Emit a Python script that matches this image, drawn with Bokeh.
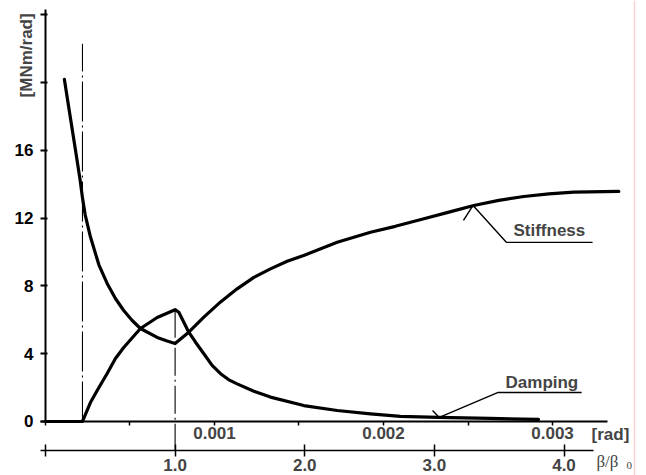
import math
from bokeh.plotting import figure
from bokeh.models import (Range1d, LinearAxis, FixedTicker, Label, Span,
                          PrintfTickFormatter)
from bokeh.embed import file_html
from bokeh.resources import INLINE

# ---------------- data (x in rad) ----------------
beta0 = 0.000767          # rad, reference amplitude beta_0
onset = 0.000219          # rad, first dash-dot line

stiffness_x = [0.000112, 0.000140, 0.000178, 0.000205, 0.000219, 0.000235,
               0.000266, 0.000316, 0.000365, 0.000414, 0.000463, 0.000513,
               0.000562, 0.000661, 0.000720, 0.000767,
               0.000848, 0.000937, 0.001036, 0.001134, 0.001233, 0.001331,
               0.00143, 0.001528, 0.001726, 0.001923, 0.00207, 0.002239,
               0.002387, 0.002534, 0.002682, 0.00283, 0.002978, 0.003126,
               0.003392]
stiffness_y = [20.19, 18.4, 16.0, 14.25, 13.2, 12.2,
               10.9, 9.25, 8.15, 7.26, 6.55, 5.96,
               5.49, 4.96, 4.75, 4.6,
               5.27, 6.16, 7.06, 7.83, 8.51, 9.01,
               9.46, 9.8, 10.58, 11.17, 11.52, 11.97,
               12.36, 12.75, 13.05, 13.28, 13.44, 13.54,
               13.58]

damping_x = [0.0, 0.000219, 0.000266, 0.000306, 0.000365, 0.000414,
             0.000463, 0.000562, 0.000661, 0.000767, 0.000789, 0.000848,
             0.000888, 0.000937, 0.000986, 0.001036, 0.001085, 0.001134,
             0.001233, 0.001331, 0.001528, 0.001726, 0.001923, 0.0021,
             0.002325, 0.00263, 0.002917]
damping_y = [0.0, 0.0, 1.12, 1.83, 2.83, 3.72,
             4.37, 5.49, 6.14, 6.6, 6.45, 5.27,
             4.68, 4.0, 3.31, 2.82, 2.46, 2.22,
             1.79, 1.44, 0.94, 0.65, 0.45, 0.30,
             0.24, 0.18, 0.12]

rad_ticks = [0.001, 0.002, 0.003]
rad_minor = [0.0, 0.0005, 0.0015, 0.0025]
beta_ticks = [1, 2, 3, 4]
beta_minor = [0]
y_ticks = [0, 4, 8, 12, 16]
y_minor = [20, 24]

# annotation anchors (data units)
stiff_tip = (0.00253, 12.75)
stiff_barb = (0.002473, 11.87)
stiff_elbow = (0.002728, 10.57)
stiff_end = (0.003237, 10.57)
damp_tip = (0.00233, 0.24)
damp_barb = (0.00229, 0.65)
damp_elbow = (0.002675, 1.71)
damp_end = (0.003172, 1.71)

# ---------------- figure (frame fills the canvas) ----------------
X_START, X_END = -0.000266, 0.003556
Y_START, Y_END = -3.188, 24.85
BETA_AXIS_Y = -1.712

p = figure(width=646, height=475, x_range=Range1d(X_START, X_END),
           y_range=Range1d(Y_START, Y_END), x_axis_type=None, y_axis_type=None,
           output_backend="svg", toolbar_location=None,
           min_border_left=0, min_border_right=0, min_border_top=0,
           min_border_bottom=0)
p.outline_line_color = None
p.background_fill_color = "white"
p.border_fill_color = "white"
p.extra_x_ranges = {"beta": Range1d(X_START / beta0, X_END / beta0)}

FONT = "Liberation Sans"

yax = LinearAxis(ticker=FixedTicker(ticks=y_ticks, minor_ticks=y_minor),
                 bounds=(0, 24.3), fixed_location=0)
yax.major_tick_out = 5
yax.major_tick_in = 2
yax.minor_tick_out = 5
yax.minor_tick_in = 2
yax.axis_line_width = 2
yax.major_tick_line_width = 2
yax.minor_tick_line_width = 2
yax.major_label_standoff = 7
yax.major_label_text_font = FONT
yax.major_label_text_font_style = "bold"
yax.major_label_text_font_size = "17px"
yax.major_label_text_color = "black"
p.add_layout(yax, "left")

radax = LinearAxis(ticker=FixedTicker(ticks=rad_ticks, minor_ticks=rad_minor),
                   formatter=PrintfTickFormatter(format="%.3f"),
                   bounds=(-0.00003, 0.003325), fixed_location=0)
radax.major_tick_out = 4
radax.major_tick_in = 0
radax.minor_tick_out = 4
radax.minor_tick_in = 0
radax.axis_line_width = 2
radax.major_tick_line_width = 1.5
radax.minor_tick_line_width = 1.5
radax.major_label_standoff = 2
radax.major_label_text_font = FONT
radax.major_label_text_font_style = "bold"
radax.major_label_text_font_size = "17px"
p.add_layout(radax, "below")

betaax = LinearAxis(x_range_name="beta",
                    ticker=FixedTicker(ticks=beta_ticks, minor_ticks=beta_minor),
                    formatter=PrintfTickFormatter(format="%.1f"),
                    bounds=(-0.04, 4.23), fixed_location=BETA_AXIS_Y)
betaax.major_tick_out = 6
betaax.major_tick_in = 6
betaax.minor_tick_out = 6
betaax.minor_tick_in = 6
betaax.axis_line_width = 1.5
betaax.major_tick_line_width = 1.5
betaax.minor_tick_line_width = 1.5
betaax.major_label_standoff = 3
betaax.major_label_text_font = FONT
betaax.major_label_text_font_style = "bold"
betaax.major_label_text_font_size = "17px"
p.add_layout(betaax, "below")

# dash-dot reference lines
p.line([onset, onset], [0, 22.3], line_color="black", line_width=1.1,
       line_dash="40 4 2 4")
p.line([beta0, beta0], [6.6, BETA_AXIS_Y], line_color="black", line_width=1.1,
       line_dash="28 4 2 4")

# curves
p.line(stiffness_x, stiffness_y, line_color="black", line_width=3.2,
       line_join="round", line_cap="round")
p.line(damping_x, damping_y, line_color="black", line_width=3.2,
       line_join="round", line_cap="round")

# leaders
for tip, barb, elbow, end in [(stiff_tip, stiff_barb, stiff_elbow, stiff_end),
                              (damp_tip, damp_barb, damp_elbow, damp_end)]:
    p.line([barb[0], tip[0], elbow[0], end[0]], [barb[1], tip[1], elbow[1], end[1]],
           line_color="black", line_width=1.4)

p.add_layout(Label(x=0.002769, y=11.27, text="Stiffness", text_font=FONT,
                   text_font_style="bold", text_font_size="17px",
                   text_baseline="middle", text_align="left"))
p.add_layout(Label(x=0.002722, y=2.30, text="Damping", text_font=FONT,
                   text_font_style="bold", text_font_size="17px",
                   text_baseline="middle", text_align="left"))

# axis captions
p.add_layout(Label(x=-0.000115, y=19.13, text="[MNm/rad]", angle=math.pi / 2,
                   text_font=FONT, text_font_style="bold", text_font_size="17px",
                   text_baseline="middle", text_align="left"))
p.add_layout(Label(x=0.003231, y=-0.74, text="[rad]", text_font=FONT,
                   text_font_style="bold", text_font_size="17px",
                   text_baseline="middle", text_align="left"))
p.add_layout(Label(x=0.003260, y=-2.36, text="β/β", text_font="Liberation Serif",
                   text_font_size="17px", text_baseline="middle",
                   text_align="left"))
p.add_layout(Label(x=0.003438, y=-2.6, text="0", text_font="Liberation Serif",
                   text_font_size="11px", text_baseline="middle",
                   text_align="left"))

# faint page-edge line of the scan
p.add_layout(Span(location=0.003485, dimension="height",
                  line_color="#ffd0d0", line_width=1.5))

open("out.html", "w").write(file_html(p, INLINE))
